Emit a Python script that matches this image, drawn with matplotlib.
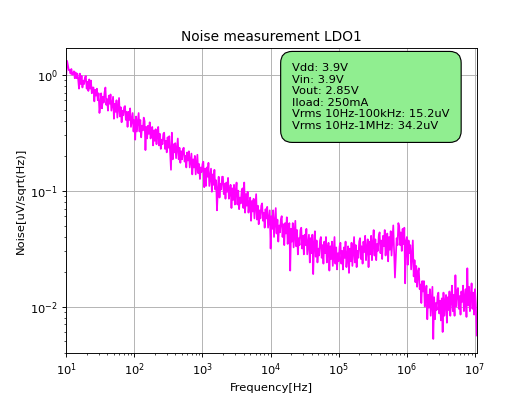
import matplotlib
matplotlib.use("Agg")
import matplotlib.pyplot as plt
import numpy as np

# Frequency points [Hz] read along the x axis
freq_hz = [
    1.000e1, 1.029e1, 1.059e1, 1.090e1, 1.122e1, 1.155e1, 1.189e1, 1.223e1, 1.259e1, 1.296e1,
    1.334e1, 1.372e1, 1.413e1, 1.454e1, 1.496e1, 1.540e1, 1.585e1, 1.631e1, 1.679e1, 1.728e1,
    1.778e1, 1.830e1, 1.884e1, 1.939e1, 1.995e1, 2.054e1, 2.113e1, 2.175e1, 2.239e1, 2.304e1,
    2.371e1, 2.441e1, 2.512e1, 2.585e1, 2.661e1, 2.738e1, 2.818e1, 2.901e1, 2.985e1, 3.073e1,
    3.162e1, 3.255e1, 3.350e1, 3.447e1, 3.548e1, 3.652e1, 3.758e1, 3.868e1, 3.981e1, 4.097e1,
    4.217e1, 4.340e1, 4.467e1, 4.597e1, 4.732e1, 4.870e1, 5.012e1, 5.158e1, 5.309e1, 5.464e1,
    5.623e1, 5.788e1, 5.957e1, 6.131e1, 6.310e1, 6.494e1, 6.683e1, 6.879e1, 7.079e1, 7.286e1,
    7.499e1, 7.718e1, 7.943e1, 8.175e1, 8.414e1, 8.660e1, 8.913e1, 9.173e1, 9.441e1, 9.716e1,
    1.000e2, 1.029e2, 1.059e2, 1.090e2, 1.122e2, 1.155e2, 1.189e2, 1.223e2, 1.259e2, 1.296e2,
    1.334e2, 1.372e2, 1.413e2, 1.454e2, 1.496e2, 1.540e2, 1.585e2, 1.631e2, 1.679e2, 1.728e2,
    1.778e2, 1.830e2, 1.884e2, 1.939e2, 1.995e2, 2.054e2, 2.113e2, 2.175e2, 2.239e2, 2.304e2,
    2.371e2, 2.441e2, 2.512e2, 2.585e2, 2.661e2, 2.738e2, 2.818e2, 2.901e2, 2.985e2, 3.073e2,
    3.162e2, 3.255e2, 3.350e2, 3.447e2, 3.548e2, 3.652e2, 3.758e2, 3.868e2, 3.981e2, 4.097e2,
    4.217e2, 4.340e2, 4.467e2, 4.597e2, 4.732e2, 4.870e2, 5.012e2, 5.158e2, 5.309e2, 5.464e2,
    5.623e2, 5.788e2, 5.957e2, 6.131e2, 6.310e2, 6.494e2, 6.683e2, 6.879e2, 7.079e2, 7.286e2,
    7.499e2, 7.718e2, 7.943e2, 8.175e2, 8.414e2, 8.660e2, 8.913e2, 9.173e2, 9.441e2, 9.716e2,
    1.000e3, 1.029e3, 1.059e3, 1.090e3, 1.122e3, 1.155e3, 1.189e3, 1.223e3, 1.259e3, 1.296e3,
    1.334e3, 1.372e3, 1.413e3, 1.454e3, 1.496e3, 1.540e3, 1.585e3, 1.631e3, 1.679e3, 1.728e3,
    1.778e3, 1.830e3, 1.884e3, 1.939e3, 1.995e3, 2.054e3, 2.113e3, 2.175e3, 2.239e3, 2.304e3,
    2.371e3, 2.441e3, 2.512e3, 2.585e3, 2.661e3, 2.738e3, 2.818e3, 2.901e3, 2.985e3, 3.073e3,
    3.162e3, 3.255e3, 3.350e3, 3.447e3, 3.548e3, 3.652e3, 3.758e3, 3.868e3, 3.981e3, 4.097e3,
    4.217e3, 4.340e3, 4.467e3, 4.597e3, 4.732e3, 4.870e3, 5.012e3, 5.158e3, 5.309e3, 5.464e3,
    5.623e3, 5.788e3, 5.957e3, 6.131e3, 6.310e3, 6.494e3, 6.683e3, 6.879e3, 7.079e3, 7.286e3,
    7.499e3, 7.718e3, 7.943e3, 8.175e3, 8.414e3, 8.660e3, 8.913e3, 9.173e3, 9.441e3, 9.716e3,
    1.000e4, 1.029e4, 1.059e4, 1.090e4, 1.122e4, 1.155e4, 1.189e4, 1.223e4, 1.259e4, 1.296e4,
    1.334e4, 1.372e4, 1.413e4, 1.454e4, 1.496e4, 1.540e4, 1.585e4, 1.631e4, 1.679e4, 1.728e4,
    1.778e4, 1.830e4, 1.884e4, 1.939e4, 1.995e4, 2.054e4, 2.113e4, 2.175e4, 2.239e4, 2.304e4,
    2.371e4, 2.441e4, 2.512e4, 2.585e4, 2.661e4, 2.738e4, 2.818e4, 2.901e4, 2.985e4, 3.073e4,
    3.162e4, 3.255e4, 3.350e4, 3.447e4, 3.548e4, 3.652e4, 3.758e4, 3.868e4, 3.981e4, 4.097e4,
    4.217e4, 4.340e4, 4.467e4, 4.597e4, 4.732e4, 4.870e4, 5.012e4, 5.158e4, 5.309e4, 5.464e4,
    5.623e4, 5.788e4, 5.957e4, 6.131e4, 6.310e4, 6.494e4, 6.683e4, 6.879e4, 7.079e4, 7.286e4,
    7.499e4, 7.718e4, 7.943e4, 8.175e4, 8.414e4, 8.660e4, 8.913e4, 9.173e4, 9.441e4, 9.716e4,
    1.000e5, 1.029e5, 1.059e5, 1.090e5, 1.122e5, 1.155e5, 1.189e5, 1.223e5, 1.259e5, 1.296e5,
    1.334e5, 1.372e5, 1.413e5, 1.454e5, 1.496e5, 1.540e5, 1.585e5, 1.631e5, 1.679e5, 1.728e5,
    1.778e5, 1.830e5, 1.884e5, 1.939e5, 1.995e5, 2.054e5, 2.113e5, 2.175e5, 2.239e5, 2.304e5,
    2.371e5, 2.441e5, 2.512e5, 2.585e5, 2.661e5, 2.738e5, 2.818e5, 2.901e5, 2.985e5, 3.073e5,
    3.162e5, 3.255e5, 3.350e5, 3.447e5, 3.548e5, 3.652e5, 3.758e5, 3.868e5, 3.981e5, 4.097e5,
    4.217e5, 4.340e5, 4.467e5, 4.597e5, 4.732e5, 4.870e5, 5.012e5, 5.158e5, 5.309e5, 5.464e5,
    5.623e5, 5.788e5, 5.957e5, 6.131e5, 6.310e5, 6.494e5, 6.683e5, 6.879e5, 7.079e5, 7.286e5,
    7.499e5, 7.718e5, 7.943e5, 8.175e5, 8.414e5, 8.660e5, 8.913e5, 9.173e5, 9.441e5, 9.716e5,
    1.000e6, 1.029e6, 1.059e6, 1.090e6, 1.122e6, 1.155e6, 1.189e6, 1.223e6, 1.259e6, 1.296e6,
    1.334e6, 1.372e6, 1.413e6, 1.454e6, 1.496e6, 1.540e6, 1.585e6, 1.631e6, 1.679e6, 1.728e6,
    1.778e6, 1.830e6, 1.884e6, 1.939e6, 1.995e6, 2.054e6, 2.113e6, 2.175e6, 2.239e6, 2.304e6,
    2.371e6, 2.441e6, 2.512e6, 2.585e6, 2.661e6, 2.738e6, 2.818e6, 2.901e6, 2.985e6, 3.073e6,
    3.162e6, 3.255e6, 3.350e6, 3.447e6, 3.548e6, 3.652e6, 3.758e6, 3.868e6, 3.981e6, 4.097e6,
    4.217e6, 4.340e6, 4.467e6, 4.597e6, 4.732e6, 4.870e6, 5.012e6, 5.158e6, 5.309e6, 5.464e6,
    5.623e6, 5.788e6, 5.957e6, 6.131e6, 6.310e6, 6.494e6, 6.683e6, 6.879e6, 7.079e6, 7.286e6,
    7.499e6, 7.718e6, 7.943e6, 8.175e6, 8.414e6, 8.660e6, 8.913e6, 9.173e6, 9.441e6, 9.716e6,
    1.000e7, 1.029e7, 1.059e7,
]

noise_log10 = [
    0.00, 0.12, 0.08, 0.04, 0.04, 0.01, 0.05, 0.00,
    0.01, 0.03, -0.03, 0.02, -0.03, 0.01, -0.04, -0.12,
    0.01, -0.08, -0.01, -0.11, -0.05, -0.08, -0.02, -0.01,
    -0.12, -0.06, -0.14, -0.04, -0.12, -0.05, -0.16, -0.11,
    -0.11, -0.23, -0.13, -0.18, -0.12, -0.22, -0.16, -0.33,
    -0.26, -0.16, -0.29, -0.19, -0.24, -0.15, -0.11, -0.26,
    -0.21, -0.31, -0.18, -0.25, -0.17, -0.31, -0.25, -0.19,
    -0.38, -0.25, -0.32, -0.22, -0.37, -0.28, -0.20, -0.36,
    -0.28, -0.41, -0.31, -0.35, -0.28, -0.27, -0.39, -0.32,
    -0.45, -0.32, -0.39, -0.29, -0.45, -0.39, -0.33, -0.49,
    -0.39, -0.56, -0.36, -0.49, -0.41, -0.33, -0.49, -0.39,
    -0.54, -0.44, -0.48, -0.37, -0.40, -0.65, -0.45, -0.55,
    -0.44, -0.51, -0.41, -0.55, -0.51, -0.45, -0.61, -0.48,
    -0.57, -0.47, -0.60, -0.51, -0.45, -0.61, -0.51, -0.64,
    -0.56, -0.60, -0.51, -0.50, -0.64, -0.57, -0.67, -0.54,
    -0.63, -0.53, -0.67, -0.82, -0.50, -0.73, -0.60, -0.67,
    -0.59, -0.72, -0.63, -0.55, -0.73, -0.63, -0.76, -0.66,
    -0.73, -0.64, -0.63, -0.75, -0.70, -0.80, -0.67, -0.74,
    -0.66, -0.80, -0.74, -0.68, -0.86, -0.73, -0.80, -0.70,
    -0.86, -0.77, -0.69, -0.85, -0.77, -0.90, -0.80, -0.84,
    -0.77, -0.75, -0.97, -0.81, -0.96, -0.80, -0.88, -0.76,
    -0.96, -0.88, -0.81, -1.01, -0.86, -0.95, -0.82, -0.99,
    -0.91, -1.17, -1.00, -0.88, -1.06, -0.94, -0.99, -0.88,
    -0.88, -1.03, -0.94, -1.07, -0.93, -1.01, -0.89, -1.07,
    -1.02, -0.95, -1.15, -0.98, -1.08, -0.95, -1.12, -1.01,
    -0.93, -1.12, -1.00, -1.16, -1.06, -1.11, -1.00, -0.98,
    -1.15, -0.93, -1.19, -1.03, -1.13, -1.01, -1.19, -1.11,
    -1.06, -1.26, -1.09, -1.18, -1.07, -1.24, -1.13, -1.03,
    -1.25, -1.13, -1.29, -1.17, -1.24, -1.13, -1.11, -1.26,
    -1.19, -1.32, -1.16, -1.24, -1.14, -1.32, -1.24, -1.17,
    -1.50, -1.22, -1.33, -1.17, -1.40, -1.27, -1.15, -1.37,
    -1.25, -1.44, -1.30, -1.36, -1.25, -1.22, -1.40, -1.29,
    -1.47, -1.28, -1.37, -1.23, -1.46, -1.36, -1.28, -1.69,
    -1.33, -1.44, -1.28, -1.49, -1.38, -1.26, -1.48, -1.34,
    -1.55, -1.41, -1.47, -1.34, -1.32, -1.50, -1.39, -1.55,
    -1.38, -1.47, -1.33, -1.55, -1.46, -1.38, -1.62, -1.41,
    -1.54, -1.38, -1.72, -1.46, -1.35, -1.57, -1.43, -1.62,
    -1.50, -1.56, -1.43, -1.40, -1.58, -1.47, -1.63, -1.44,
    -1.54, -1.40, -1.62, -1.52, -1.45, -1.69, -1.48, -1.59,
    -1.44, -1.65, -1.52, -1.40, -1.63, -1.49, -1.68, -1.54,
    -1.61, -1.48, -1.45, -1.63, -1.52, -1.68, -1.49, -1.58,
    -1.44, -1.66, -1.56, -1.48, -1.71, -1.50, -1.61, -1.45,
    -1.65, -1.52, -1.40, -1.62, -1.47, -1.66, -1.52, -1.58,
    -1.44, -1.41, -1.59, -1.48, -1.63, -1.44, -1.53, -1.39,
    -1.60, -1.50, -1.42, -1.66, -1.44, -1.55, -1.39, -1.60,
    -1.46, -1.34, -1.56, -1.42, -1.60, -1.46, -1.52, -1.39,
    -1.36, -1.54, -1.43, -1.59, -1.39, -1.48, -1.34, -1.56,
    -1.45, -1.37, -1.61, -1.40, -1.51, -1.35, -1.56, -1.43,
    -1.30, -1.52, -1.75, -1.57, -1.41, -1.47, -1.28, -1.31,
    -1.47, -1.36, -1.52, -1.33, -1.46, -1.32, -1.80, -1.44,
    -1.40, -1.64, -1.43, -1.54, -1.47, -1.68, -1.55, -1.43,
    -1.74, -1.60, -1.79, -1.65, -1.83, -1.70, -1.67, -1.85,
    -1.81, -1.97, -1.78, -1.87, -1.78, -2.00, -1.90, -1.82,
    -2.11, -1.90, -2.01, -1.85, -2.08, -1.95, -1.83, -2.28,
    -1.92, -2.11, -1.97, -2.03, -1.91, -1.88, -2.06, -1.95,
    -2.12, -1.93, -2.22, -1.88, -2.08, -1.98, -1.90, -2.14,
    -1.92, -2.03, -1.87, -2.08, -1.94, -1.82, -2.04, -1.90,
    -2.08, -1.73, -2.00, -1.87, -1.84, -2.02, -1.91, -2.07,
    -1.87, -1.96, -1.82, -2.04, -1.93, -1.85, -2.09, -1.67,
    -1.99, -1.83, -2.04, -1.91, -1.80, -2.02, -1.88, -2.07,
    -1.85, -1.98, -2.25,
]

title = "Noise measurement LDO1"
x_label = "Frequency[Hz]"
y_label = "Noise[uV/sqrt(Hz)]"
info_lines = [
    "Vdd: 3.9V",
    "Vin: 3.9V",
    "Vout: 2.85V",
    "Iload: 250mA",
    "Vrms 10Hz-100kHz: 15.2uV",
    "Vrms 10Hz-1MHz: 34.2uV",
]

freq = np.array(freq_hz)
noise = 10.0 ** np.array(noise_log10)

dpi = 530 / 6.4
fig = plt.figure(figsize=(6.4, 397 / dpi), dpi=dpi)
ax = fig.add_subplot(111)
ax.plot(freq, noise, color="#FF00FF", linewidth=1.5)
ax.set_xscale("log")
ax.set_yscale("log")
ax.set_xlim(10, 1.07e7)
ax.set_ylim(10 ** -2.404, 10 ** 0.234)
ax.grid(True)
ax.set_title(title)
ax.set_xlabel(x_label)
ax.set_ylabel(y_label)
ax.text(0.55, 0.95, "\n".join(info_lines), transform=ax.transAxes,
        ha="left", va="top", fontsize=10,
        bbox=dict(boxstyle="round,pad=1.0", facecolor="lightgreen",
                  edgecolor="black"))
fig.savefig("out.png", dpi=dpi)
